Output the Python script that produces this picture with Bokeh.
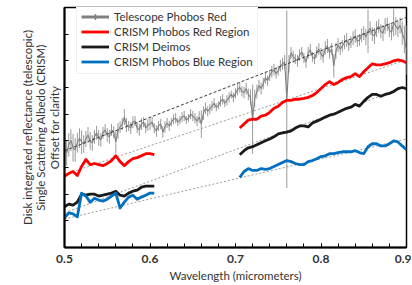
import numpy as np
from bokeh.plotting import figure
from bokeh.models import (Range1d, LinearAxis, SingleIntervalTicker, FixedTicker,
                          Legend, LegendItem)
from bokeh.embed import file_html
from bokeh.resources import INLINE

FONT = "Lato"
TXT = "#333333"

# ---------------- data ----------------
wl_tel_a = [0.500, 0.505, 0.510, 0.515, 0.520, 0.525, 0.530, 0.535, 0.540, 0.545,
            0.550, 0.555, 0.560, 0.565, 0.570, 0.575, 0.580, 0.585, 0.590, 0.595,
            0.600, 0.605, 0.610, 0.615, 0.620, 0.625, 0.630, 0.635, 0.640, 0.645,
            0.650, 0.655, 0.660, 0.665, 0.670, 0.675, 0.680, 0.685, 0.690, 0.695,
            0.700, 0.705, 0.710, 0.715, 0.720, 0.725, 0.730, 0.735, 0.740, 0.745,
            0.750, 0.755, 0.760, 0.765, 0.770, 0.775, 0.780, 0.785, 0.790, 0.795,
            0.800, 0.805, 0.810, 0.815, 0.820, 0.825, 0.830, 0.835, 0.840, 0.845,
            0.850, 0.855, 0.860, 0.865, 0.870, 0.875, 0.880, 0.885, 0.890, 0.895,
            0.900]
tel_a = [3.70, 3.85, 3.74, 3.93, 3.96, 4.07, 4.00, 4.15, 4.11, 4.30,
         4.22, 4.41, 3.96, 4.52, 4.89, 4.56, 4.70, 4.48, 4.63, 4.48,
         4.63, 4.48, 4.56, 4.33, 4.67, 4.70, 4.85, 4.78, 4.93, 4.85,
         4.93, 4.74, 4.63, 5.22, 5.19, 5.41, 5.33, 5.56, 5.52, 5.74,
         5.78, 6.00, 5.81, 5.74, 4.81, 5.85, 5.96, 6.37, 6.44, 6.67,
         6.63, 6.89, 5.56, 7.30, 7.07, 7.22, 7.11, 7.30, 7.15, 7.33,
         7.26, 7.48, 7.30, 6.81, 7.59, 7.56, 7.78, 7.70, 7.93, 7.78,
         8.04, 8.11, 8.00, 8.19, 8.11, 8.30, 8.15, 8.44, 8.19, 8.04,
         7.41]
err_a = [0.56, 0.44, 0.52, 0.37, 0.44, 0.30, 0.33, 0.26, 0.30, 0.22,
         0.26, 0.22, 0.44, 0.22, 0.30, 0.19, 0.22, 0.19, 0.22, 0.19,
         0.22, 0.19, 0.19, 0.22, 0.19, 0.15, 0.19, 0.15, 0.19, 0.15,
         0.19, 0.19, 0.52, 0.22, 0.19, 0.19, 0.15, 0.19, 0.19, 0.15,
         0.19, 0.19, 0.22, 0.22, 1.30, 0.26, 0.22, 0.22, 0.19, 0.22,
         0.19, 0.22, 3.33, 0.22, 0.19, 0.22, 0.19, 0.22, 0.19, 0.22,
         0.22, 0.26, 0.22, 0.44, 0.26, 0.22, 0.26, 0.22, 0.26, 0.22,
         0.26, 0.81, 0.26, 0.30, 0.26, 0.30, 0.26, 0.52, 0.30, 0.44,
         0.93]
wl_tel_b = [0.5025, 0.5075, 0.5125, 0.5175, 0.5225, 0.5275, 0.5325, 0.5375, 0.5425, 0.5475,
            0.5525, 0.5575, 0.5625, 0.5675, 0.5725, 0.5775, 0.5825, 0.5875, 0.5925, 0.5975,
            0.6025, 0.6075, 0.6125, 0.6175, 0.6225, 0.6275, 0.6325, 0.6375, 0.6425, 0.6475,
            0.6525, 0.6575, 0.6625, 0.6675, 0.6725, 0.6775, 0.6825, 0.6875, 0.6925, 0.6975,
            0.7025, 0.7075, 0.7125, 0.7175, 0.7225, 0.7275, 0.7325, 0.7375, 0.7425, 0.7475,
            0.7525, 0.7575, 0.7625, 0.7675, 0.7725, 0.7775, 0.7825, 0.7875, 0.7925, 0.7975,
            0.8025, 0.8075, 0.8125, 0.8175, 0.8225, 0.8275, 0.8325, 0.8375, 0.8425, 0.8475,
            0.8525, 0.8575, 0.8625, 0.8675, 0.8725, 0.8775, 0.8825, 0.8875, 0.8925, 0.8975]
tel_b = [3.55, 4.02, 3.66, 4.10, 3.88, 4.22, 3.92, 4.30, 4.04, 4.41,
         4.15, 4.33, 4.37, 4.63, 4.59, 4.48, 4.74, 4.41, 4.70, 4.59,
         4.70, 4.37, 4.63, 4.52, 4.56, 4.81, 4.70, 4.89, 4.78, 5.00,
         4.85, 4.89, 5.04, 5.11, 5.30, 5.26, 5.48, 5.41, 5.63, 5.63,
         5.93, 5.85, 5.96, 5.63, 5.59, 6.07, 6.15, 6.26, 6.59, 6.52,
         6.81, 6.96, 6.89, 7.15, 7.00, 7.33, 6.96, 7.41, 7.07, 7.44,
         7.15, 7.56, 7.44, 7.37, 7.44, 7.70, 7.59, 7.85, 7.74, 7.96,
         7.89, 8.22, 7.93, 8.30, 8.04, 8.37, 8.07, 8.30, 8.33, 7.81]
err_b = [0.48, 0.41, 0.44, 0.37, 0.33, 0.30, 0.30, 0.26, 0.26, 0.22,
         0.26, 0.22, 0.30, 0.22, 0.26, 0.22, 0.19, 0.22, 0.19, 0.22,
         0.19, 0.22, 0.19, 0.22, 0.19, 0.19, 0.15, 0.19, 0.15, 0.19,
         0.19, 0.22, 0.26, 0.19, 0.19, 0.15, 0.19, 0.15, 0.19, 0.19,
         0.22, 0.19, 0.22, 0.30, 0.33, 0.22, 0.22, 0.19, 0.22, 0.19,
         0.22, 0.26, 0.33, 0.22, 0.22, 0.19, 0.22, 0.22, 0.19, 0.22,
         0.22, 0.26, 0.22, 0.30, 0.22, 0.26, 0.22, 0.26, 0.22, 0.26,
         0.30, 0.26, 0.30, 0.26, 0.30, 0.26, 0.30, 0.33, 0.30, 0.52]

wl_seg1 = [0.500, 0.505, 0.510, 0.515, 0.520, 0.525, 0.530, 0.535, 0.540, 0.545,
           0.550, 0.555, 0.560, 0.565, 0.570, 0.575, 0.580, 0.585, 0.590, 0.595,
           0.600, 0.605]
wl_seg2 = [0.705, 0.710, 0.715, 0.720, 0.725, 0.730, 0.735, 0.740, 0.745, 0.750,
           0.755, 0.760, 0.765, 0.770, 0.775, 0.780, 0.785, 0.790, 0.795, 0.800,
           0.805, 0.810, 0.815, 0.820, 0.825, 0.830, 0.835, 0.840, 0.845, 0.850,
           0.855, 0.860, 0.865, 0.870, 0.875, 0.880, 0.885, 0.890, 0.895, 0.900]

crism_red_1 = [2.67, 2.78, 2.85, 2.70, 3.04, 3.30, 3.11, 3.15, 3.11, 3.07,
               3.15, 3.26, 3.44, 3.22, 3.07, 3.22, 3.33, 3.37, 3.44, 3.52,
               3.52, 3.48]
crism_red_2 = [4.48, 4.63, 4.78, 4.81, 4.81, 4.93, 4.96, 5.07, 5.22, 5.30,
               5.44, 5.52, 5.52, 5.56, 5.56, 5.59, 5.63, 5.70, 5.81, 5.96,
               6.11, 6.22, 6.11, 6.19, 6.30, 6.37, 6.41, 6.52, 6.41, 6.59,
               6.74, 6.89, 6.85, 6.85, 6.89, 6.93, 7.00, 7.04, 7.00, 6.93]
crism_deimos_1 = [1.52, 1.63, 1.59, 1.70, 2.00, 1.96, 2.00, 2.00, 1.93, 1.96,
                  2.00, 2.04, 2.11, 1.96, 1.93, 2.04, 2.11, 2.15, 2.26, 2.30,
                  2.30, 2.30]
crism_deimos_2 = [3.48, 3.63, 3.74, 3.78, 3.85, 3.93, 4.00, 4.07, 4.15, 4.26,
                  4.30, 4.33, 4.37, 4.48, 4.56, 4.56, 4.52, 4.67, 4.74, 4.81,
                  4.89, 4.96, 5.00, 5.07, 5.15, 5.22, 5.26, 5.37, 5.30, 5.48,
                  5.63, 5.74, 5.74, 5.67, 5.74, 5.78, 5.85, 5.96, 6.00, 5.96]
crism_blue_1 = [1.11, 1.30, 1.26, 1.15, 2.04, 1.93, 1.70, 1.85, 1.78, 1.74,
                1.81, 1.93, 2.04, 1.48, 1.70, 1.89, 1.96, 1.81, 1.89, 1.96,
                2.04, 2.04]
crism_blue_2 = [2.63, 2.85, 2.96, 2.89, 2.89, 2.96, 2.93, 2.96, 3.04, 3.11,
                3.19, 3.26, 3.22, 3.15, 3.11, 3.11, 3.22, 3.26, 3.33, 3.41,
                3.44, 3.52, 3.52, 3.56, 3.59, 3.59, 3.59, 3.63, 3.56, 3.52,
                3.78, 3.89, 3.89, 3.81, 3.81, 3.89, 4.00, 3.96, 3.81, 3.67]

cont_wl = [0.5, 0.9]
cont_tel = [3.63, 8.63]
cont_red = [2.74, 7.04]
cont_deimos = [1.30, 6.04]
cont_blue = [1.07, 4.07]

y_ticks = [1, 2, 3, 4, 5, 6, 7, 8]

labels = ["Telescope Phobos Red", "CRISM Phobos Red Region",
          "CRISM Deimos", "CRISM Phobos Blue Region"]
x_title = "Wavelength (micrometers)"
y_titles = ["Disk integrated reflectance (telescopic)",
            "Single Scattering Albedo (CRISM)",
            "Offset for clarity"]

GRAY = "#808080"
ERRGRAY = "#9a9a9a"
RED = "#ff0000"
BLACK = "#1a1a1a"
BLUE = "#0070c0"

wl_all = np.array(wl_tel_a + wl_tel_b)
order = np.argsort(wl_all)
wl_tel = wl_all[order]
tel_val = np.array(tel_a + tel_b)[order]
tel_err = np.array(err_a + err_b)[order]

# ---------------- figure ----------------
p = figure(width=411, height=284, output_backend="svg", toolbar_location=None,
           x_range=Range1d(0.5, 0.9), y_range=Range1d(0, 9),
           min_border_left=64, min_border_right=5, min_border_top=7,
           min_border_bottom=34)
p.grid.visible = False
p.outline_line_color = "black"
p.outline_line_width = 1.5
p.background_fill_color = "white"
p.border_fill_color = "white"

p.segment(x0=wl_tel, y0=tel_val - tel_err, x1=wl_tel, y1=tel_val + tel_err,
          line_color=ERRGRAY, line_width=1)
p.line(wl_tel, tel_val, line_color=GRAY, line_width=1.1)

p.line(cont_wl, cont_tel, line_color="#3a3a3a", line_width=1, line_dash="3 2")
for c in (cont_red, cont_deimos, cont_blue):
    p.line(cont_wl, c, line_color="#9a9a9a", line_width=1, line_dash="2 2")

LW = 2.8
r_red1 = p.line(wl_seg1, crism_red_1, line_color=RED, line_width=LW, line_join="round")
p.line(wl_seg2, crism_red_2, line_color=RED, line_width=LW, line_join="round")
r_blk1 = p.line(wl_seg1, crism_deimos_1, line_color=BLACK, line_width=LW, line_join="round")
p.line(wl_seg2, crism_deimos_2, line_color=BLACK, line_width=LW, line_join="round")
r_blu1 = p.line(wl_seg1, crism_blue_1, line_color=BLUE, line_width=LW, line_join="round")
p.line(wl_seg2, crism_blue_2, line_color=BLUE, line_width=LW, line_join="round")

leg_line = p.line(x=[0.30, 0.31], y=[-5, -5], line_color=GRAY, line_width=3)
leg_cross = p.scatter(x=[0.30], y=[-5], marker="cross", size=7,
                      line_color=GRAY, line_width=1.5)

legend = Legend(items=[
    LegendItem(label=labels[0], renderers=[leg_line, leg_cross]),
    LegendItem(label=labels[1], renderers=[r_red1]),
    LegendItem(label=labels[2], renderers=[r_blk1]),
    LegendItem(label=labels[3], renderers=[r_blu1]),
], location=(12, 173))
legend.background_fill_color = "white"
legend.background_fill_alpha = 1
legend.border_line_color = "#e4e4e4"
legend.label_text_font = FONT
legend.label_text_font_size = "11.5px"
legend.label_text_color = TXT
legend.glyph_width = 28
legend.glyph_height = 15
legend.label_height = 15
legend.spacing = 0
legend.padding = 4
legend.margin = 0
legend.label_standoff = 5
p.add_layout(legend)

xa = p.xaxis[0]
xa.ticker = SingleIntervalTicker(interval=0.1, num_minor_ticks=5)
xa.major_tick_in = 4
xa.major_tick_out = 0
xa.minor_tick_in = 4
xa.minor_tick_out = 0
xa.axis_line_width = 2
xa.axis_line_color = "black"
xa.major_tick_line_color = "black"
xa.minor_tick_line_color = "black"
xa.major_label_text_font = FONT
xa.major_label_text_font_style = "bold"
xa.major_label_text_font_size = "12px"
xa.major_label_text_color = TXT
xa.major_label_standoff = 7
xa.axis_label = x_title
xa.axis_label_text_font = FONT
xa.axis_label_text_font_style = "normal"
xa.axis_label_text_font_size = "11.5px"
xa.axis_label_text_color = TXT
xa.axis_label_standoff = 3

ya = p.yaxis[0]
ya.ticker = FixedTicker(ticks=[], minor_ticks=y_ticks)
ya.major_tick_in = 0
ya.major_tick_out = 0
ya.minor_tick_in = 4
ya.minor_tick_out = 0
ya.minor_tick_line_width = 1
ya.axis_line_width = 2
ya.axis_line_color = "black"
ya.minor_tick_line_color = "black"
ya.major_label_standoff = 0
ya.axis_label = y_titles[2]
ya.axis_label_text_font = FONT
ya.axis_label_text_font_style = "normal"
ya.axis_label_text_font_size = "11.5px"
ya.axis_label_text_color = TXT
ya.axis_label_standoff = 4

for text, so in ((y_titles[1], -2), (y_titles[0], -3)):
    ax = LinearAxis(ticker=FixedTicker(ticks=[]))
    ax.axis_line_color = None
    ax.major_tick_line_color = None
    ax.minor_tick_line_color = None
    ax.major_tick_in = 0
    ax.major_tick_out = 0
    ax.minor_tick_in = 0
    ax.minor_tick_out = 0
    ax.major_label_standoff = 0
    ax.axis_label = text
    ax.axis_label_text_font = FONT
    ax.axis_label_text_font_style = "normal"
    ax.axis_label_text_font_size = "11.5px"
    ax.axis_label_text_color = TXT
    ax.axis_label_standoff = so
    p.add_layout(ax, "left")

open("out.html", "w").write(file_html(p, INLINE))
